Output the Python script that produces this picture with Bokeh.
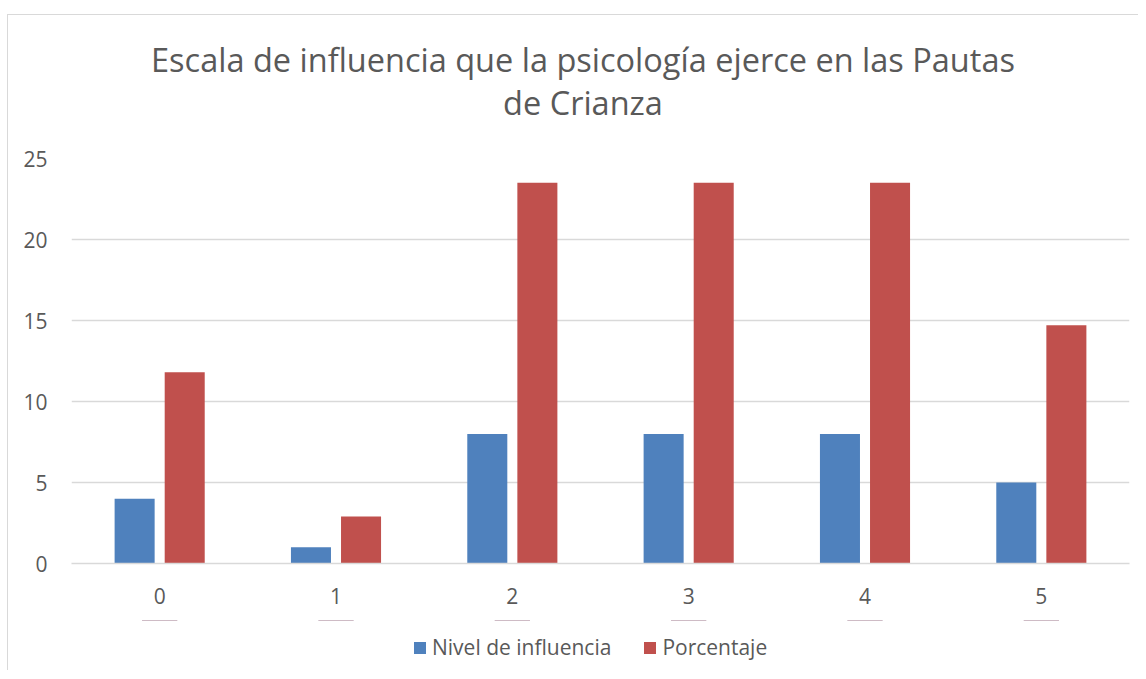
from bokeh.plotting import figure
from bokeh.layouts import column
from bokeh.models import ColumnDataSource, FactorRange, Legend, LegendItem, Label
from bokeh.transform import dodge
from bokeh.embed import file_html
from bokeh.resources import INLINE

categories = ["0", "1", "2", "3", "4", "5"]
nivel = [4, 1, 8, 8, 8, 5]
porcentaje = [11.8, 2.9, 23.5, 23.5, 23.5, 14.7]
series_names = ["Nivel de influencia", "Porcentaje"]
series_colors = ["#4f81bd", "#c0504d"]
title_lines = ["Escala de influencia que la psicología ejerce en las Pautas", "de Crianza"]
y_ticks = [0, 5, 10, 15, 20, 25]

FONT = "Open Sans"
TXT = "#595959"
GRID = "#d9d9d9"


def strip(height, x_range=(0, 1), y_range=(0, 1)):
    f = figure(width=1130, height=height, x_range=x_range, y_range=y_range,
               output_backend="svg", toolbar_location=None, tools="",
               min_border=0, outline_line_color=None)
    f.axis.visible = False
    f.grid.visible = False
    return f


# title strip
tf = strip(110)
for txt, ys in zip(title_lines, [66, 23]):
    tf.add_layout(Label(x=511.5, y=ys, x_units="screen", y_units="screen", text=txt,
                        text_align="center", text_baseline="middle", text_font=FONT,
                        text_font_size="32.5px", text_color=TXT))

# main chart
src = ColumnDataSource(dict(cat=categories, nivel=nivel, porc=porcentaje))
p = figure(width=1130, height=495, x_range=FactorRange(*categories), y_range=(0, 25),
           output_backend="svg", toolbar_location=None, tools="",
           min_border_left=63, min_border_right=9, min_border_top=33, min_border_bottom=57)
p.outline_line_color = None
p.x_range.range_padding = 0

p.vbar(x=dodge("cat", -0.142, range=p.x_range), top="nivel", width=0.227, source=src,
       fill_color=series_colors[0], line_color=None)
p.vbar(x=dodge("cat", 0.142, range=p.x_range), top="porc", width=0.227, source=src,
       fill_color=series_colors[1], line_color=None)

p.xgrid.grid_line_color = None
p.ygrid.grid_line_color = GRID
p.ygrid.grid_line_width = 1.3
p.yaxis.ticker = y_ticks
p.yaxis.axis_line_color = None
p.yaxis.major_tick_line_color = None
p.yaxis.minor_tick_line_color = None
p.yaxis.major_label_standoff = 18
p.xaxis.axis_line_color = GRID
p.xaxis.axis_line_width = 1.3
p.xaxis.major_tick_line_color = None
p.xaxis.major_label_standoff = 18
for ax in (p.xaxis, p.yaxis):
    ax.major_label_text_font = FONT
    ax.major_label_text_font_size = "21px"
    ax.major_label_text_color = TXT

# legend strip below the chart (proxy bars lie far outside its visible y range)
lf = strip(50, x_range=FactorRange(*categories), y_range=(-1000, -999))
lr1 = lf.vbar(x="cat", top="nivel", width=0.2, source=src,
              fill_color=series_colors[0], line_color=None)
lr2 = lf.vbar(x="cat", top="porc", width=0.2, source=src,
              fill_color=series_colors[1], line_color=None)
legend = Legend(items=[LegendItem(label=series_names[0], renderers=[lr1]),
                       LegendItem(label=series_names[1], renderers=[lr2])],
                orientation="horizontal", location=(341, 9),
                label_text_font=FONT, label_text_font_size="21px", label_text_color=TXT,
                glyph_width=15, glyph_height=15, spacing=31, label_standoff=5, padding=0,
                border_line_color=None, background_fill_alpha=0)
lf.add_layout(legend, "center")

layout = column(tf, p, lf, spacing=0,
                styles={"margin-left": "7px", "margin-top": "14px",
                        "border-left": "1px solid #d9d9d9", "border-top": "1px solid #d9d9d9"})

open("out.html", "w").write(file_html(layout, INLINE))
